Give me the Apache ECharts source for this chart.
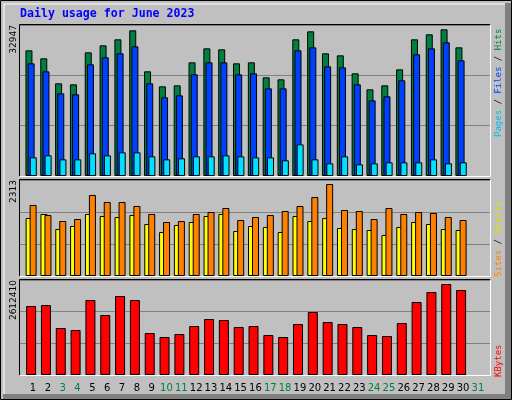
<!DOCTYPE html>
<html><head><meta charset="utf-8">
<script src="https://cdn.jsdelivr.net/npm/echarts@6/dist/echarts.min.js"></script>
<style>html,body{margin:0;padding:0;background:#c0c0c0}#c{width:512px;height:400px}</style>
</head><body><div id="c"></div>
<script>
var days = [];
for (var i = 1; i <= 31; i++) days.push(String(i));
var weekend = ['3','4','10','11','17','18','24','25','31'];
var hits = [27419,25674,20219,20000,26983,28510,29819,31783,22837,19564,19783,24801,27856,27637,24583,24801,21528,21092,29819,31565,26765,26328,22401,18910,19783,23274,29819,30911,32001,28074];
var files = [24583,22837,18037,17819,24365,25892,26765,28292,20219,17164,17601,22183,24801,24801,22183,22401,19128,19128,27419,28074,23928,23710,20000,16510,17383,20874,26547,27856,29165,25237];
var pages = [4073,4509,3637,3637,4946,4509,5164,5164,4291,3637,3855,4291,4291,4509,4291,4073,4073,3418,6909,3637,2764,4291,2546,2764,2982,2982,2982,3637,2764,2982];
var sites = [1397,1494,1132,1205,1494,1446,1421,1470,1253,1060,1229,1301,1446,1494,1084,1205,1181,1060,1446,1325,1397,1156,1132,1108,988,1181,1301,1253,1132,1108];
var visits = [1711,1470,1325,1373,1952,1783,1783,1687,1494,1301,1325,1494,1542,1638,1349,1421,1470,1566,1687,1903,2217,1590,1566,1373,1638,1494,1542,1518,1421,1349];
var kbytes = [1897362,1924860,1292406,1237410,2062350,1649880,2172342,2062350,1154916,1044924,1127418,1347402,1539888,1512390,1319904,1347402,1099920,1044924,1402398,1732374,1457394,1402398,1319904,1099920,1072422,1429896,2007354,2282334,2502318,2337330];
var maxHits = 32947, maxVisits = 2313, maxKB = 2612410;

function pairs(a){ return a.map(function(v,i){ return [i+1, v]; }); }
var panels = [{top:25,h:151,max:maxHits},{top:180,h:96,max:maxVisits},{top:280,h:95,max:maxKB}];
var L = 20, W = 470;
var grids = panels.map(function(p){ return {left:L, top:p.top, width:W, height:p.h}; });
grids.push({left:25.6, top:376, width:459.7, height:1});
var xAxes = [0,1,2].map(function(i){ return {type:'value', gridIndex:i, min:0.25, max:31.95, show:false}; });
xAxes.push({type:'category', gridIndex:3, data:days, axisLine:{show:false}, axisTick:{show:false},
  axisLabel:{margin:6, fontFamily:'DejaVu Sans', fontSize:10, interval:0,
    color:function(v){ return weekend.indexOf(v) >= 0 ? '#008040' : '#000'; }}});
var yAxes = panels.map(function(p,i){ return {type:'value', gridIndex:i, min:0, max:p.max, interval:p.max/3,
  axisLine:{show:false}, axisTick:{show:false},
  splitLine:{lineStyle:{color:'#808080', width:1}},
  axisLabel:{rotate:90, align:'right', verticalAlign:'bottom', margin:2, fontFamily:'DejaVu Sans', fontSize:9, color:'#000',
    formatter:function(v){ return v >= p.max*0.999 ? String(p.max) : ''; }}}; });
yAxes.push({type:'value', gridIndex:3, show:false});

function bar(data, gi, color, w, gap){
  return {type:'bar', xAxisIndex:gi, yAxisIndex:gi, data:pairs(data), barWidth:w, barGap:gap, animation:false,
    itemStyle:{color:color, borderColor:'#000', borderWidth:1}};
}
var series = [
  bar(hits,0,'#008040',7,'-69%'), bar(files,0,'#0040ff',7,'-69%'), bar(pages,0,'#00e0ff',7,'-69%'),
  bar(sites,1,'#ffff00',7,'-43%'), bar(visits,1,'#ff8000',7,'-43%'),
  bar(kbytes,2,'#ff0000',10,'0%')
];

var g = [
  {type:'rect', shape:{x:0,y:0,width:512,height:400}, style:{fill:'#c0c0c0'}, z:-10},
  {type:'rect', shape:{x:505,y:3,width:6,height:396}, style:{fill:'#808080'}, z:-9},
  {type:'rect', shape:{x:3,y:394,width:508,height:6}, style:{fill:'#808080'}, z:-9},
  {type:'line', shape:{x1:3,y1:4,x2:505,y2:4}, style:{stroke:'#fff',lineWidth:1}, z:-9},
  {type:'line', shape:{x1:4,y1:4,x2:4,y2:394}, style:{stroke:'#fff',lineWidth:1}, z:-9},
  {type:'rect', shape:{x:0.5,y:0.5,width:511,height:399}, style:{fill:'none',stroke:'#000',lineWidth:1}, z:-8},
  {type:'text', left:20, top:8, style:{text:'Daily usage for June 2023', fill:'#0000ff', font:'bold 11.6px "DejaVu Sans Mono"'}},
  {type:'text', x:499, y:137, rotation:Math.PI/2, style:{
    text:'{p|Pages}{s| / }{f|Files}{s| / }{h|Hits}', verticalAlign:'middle', align:'left',
    font:'9px "DejaVu Sans Mono"',
    rich:{p:{fill:'#00c0e0',font:'9px "DejaVu Sans Mono"'},s:{fill:'#000',font:'9px "DejaVu Sans Mono"'},f:{fill:'#0040ff',font:'9px "DejaVu Sans Mono"'},h:{fill:'#008040',font:'9px "DejaVu Sans Mono"'}}}},
  {type:'text', x:499, y:277, rotation:Math.PI/2, style:{
    text:'{a|Sites}{s| / }{b|Visits}', verticalAlign:'middle', align:'left', font:'9px "DejaVu Sans Mono"',
    rich:{a:{fill:'#ff8000',font:'9px "DejaVu Sans Mono"'},s:{fill:'#000',font:'9px "DejaVu Sans Mono"'},b:{fill:'#e0e000',font:'9px "DejaVu Sans Mono"'}}}},
  {type:'text', x:499, y:377, rotation:Math.PI/2, style:{
    text:'KBytes', verticalAlign:'middle', align:'left', fill:'#ff0000', font:'9px "DejaVu Sans Mono"'}}
];
panels.forEach(function(p){
  var x0=L-0.5, y0=p.top-0.5, x1=L+W+0.5, y1=p.top+p.h+0.5;
  g.push({type:'line', shape:{x1:x0,y1:y0,x2:x1,y2:y0}, style:{stroke:'#000',lineWidth:1}, z:10});
  g.push({type:'line', shape:{x1:x0,y1:y0,x2:x0,y2:y1}, style:{stroke:'#000',lineWidth:1}, z:10});
  g.push({type:'line', shape:{x1:x0,y1:y1,x2:x1,y2:y1}, style:{stroke:'#fff',lineWidth:1}, z:10});
  g.push({type:'line', shape:{x1:x1,y1:y0,x2:x1,y2:y1}, style:{stroke:'#fff',lineWidth:1}, z:10});
});

var chart = echarts.init(document.getElementById('c'));
chart.setOption({animation:false, backgroundColor:'#c0c0c0', grid:grids, xAxis:xAxes, yAxis:yAxes, series:series, graphic:g});
</script></body></html>
